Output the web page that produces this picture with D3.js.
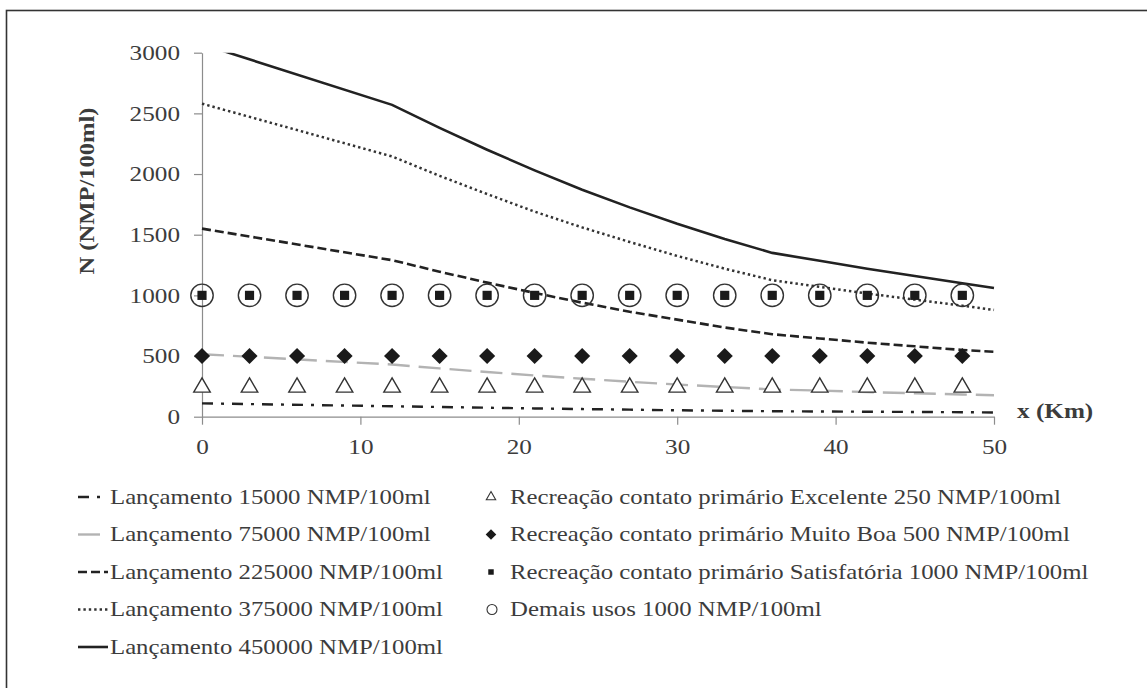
<!DOCTYPE html>
<html>
<head>
<meta charset="utf-8">
<script src="https://cdn.jsdelivr.net/npm/d3@7"></script>
<style>
    body { margin: 0; background: #fff; }
    #chartDiv { width: 1147px; height: 688px; }
    text { font-family: "Liberation Serif", "Times New Roman", serif; fill: #3c3c3c; }
    .axis path, .axis line { stroke: #8c8c8c; stroke-width: 1.2; }
</style>
</head>
<body>
<div id="chartDiv"></div>
<script>

// distance along the river (km) where the launch curves are read
let distKm = [0, 12, 15, 18, 21, 24, 27, 30, 33, 36, 39, 42, 45, 48, 50];

// coliform concentration N (NMP/100ml) for each launch
let launch15000  = [110, 86, 80, 74, 68, 63, 58, 53, 49, 45, 43, 41, 39, 37, 35];
let launch75000  = [515, 430, 398, 368, 340, 313, 288, 265, 245, 225, 215, 203, 193, 183, 177];
let launch225000 = [1550, 1290, 1195, 1105, 1020, 940, 865, 800, 735, 680, 645, 610, 580, 550, 535];
let launch375000 = [2580, 2145, 1985, 1835, 1690, 1560, 1440, 1325, 1220, 1125, 1070, 1015, 965, 915, 880];
let launch450000 = [3070, 2570, 2380, 2200, 2030, 1870, 1725, 1590, 1465, 1350, 1285, 1220, 1160, 1100, 1060];

// distances of the limit markers
let markerKm = [0, 3, 6, 9, 12, 15, 18, 21, 24, 27, 30, 33, 36, 39, 42, 45, 48];

// limit values (NMP/100ml)
let excelente250     = [250, 250, 250, 250, 250, 250, 250, 250, 250, 250, 250, 250, 250, 250, 250, 250, 250];
let muitoBoa500      = [500, 500, 500, 500, 500, 500, 500, 500, 500, 500, 500, 500, 500, 500, 500, 500, 500];
let satisfatoria1000 = [1000, 1000, 1000, 1000, 1000, 1000, 1000, 1000, 1000, 1000, 1000, 1000, 1000, 1000, 1000, 1000, 1000];
let demaisUsos1000   = [1000, 1000, 1000, 1000, 1000, 1000, 1000, 1000, 1000, 1000, 1000, 1000, 1000, 1000, 1000, 1000, 1000];

// tick labels
let xTicks = [0, 10, 20, 30, 40, 50];
let yTicks = [0, 500, 1000, 1500, 2000, 2500, 3000];

// legend labels
let lineLabels = [
    "Lançamento 15000 NMP/100ml",
    "Lançamento 75000 NMP/100ml",
    "Lançamento 225000 NMP/100ml",
    "Lançamento 375000 NMP/100ml",
    "Lançamento 450000 NMP/100ml"
];
let markerLabels = [
    "Recreação contato primário Excelente 250 NMP/100ml",
    "Recreação contato primário Muito Boa 500 NMP/100ml",
    "Recreação contato primário Satisfatória 1000 NMP/100ml",
    "Demais usos 1000 NMP/100ml"
];


class DecayChart {
    constructor(parentElement) {
        this.parentElement = parentElement;
        this.lines = [launch15000, launch75000, launch225000, launch375000, launch450000];
        this.initVis();
    }

    initVis() {
        let vis = this;

        vis.margin = {top: 52.7, left: 202};
        vis.width = 792;
        vis.height = 364;

        vis.root = d3.select("#" + vis.parentElement).append("svg")
            .attr("width", 1147)
            .attr("height", 688);

        // frame round the figure, it runs off the right and bottom edges
        vis.root.append("rect")
            .attr("x", 6.5)
            .attr("y", 10.5)
            .attr("width", 1300)
            .attr("height", 900)
            .attr("fill", "none")
            .attr("stroke", "#333")
            .attr("stroke-width", 1.6);

        vis.svg = vis.root.append("g")
            .attr("transform", "translate(" + vis.margin.left + "," + vis.margin.top + ")");

        vis.x = d3.scaleLinear().domain([0, 50]).range([0, vis.width]);
        vis.y = d3.scaleLinear().domain([0, 3000]).range([vis.height, 0]);

        vis.xAxis = d3.axisBottom(vis.x).tickValues(xTicks).tickFormat(d3.format("d")).tickSize(8).tickSizeOuter(0);
        vis.yAxis = d3.axisLeft(vis.y).tickValues(yTicks).tickFormat(d3.format("d")).tickSize(8).tickSizeOuter(0);

        // clip so the top curve stops at 3000
        vis.svg.append("clipPath").attr("id", "plotClip")
            .append("rect")
            .attr("x", -2).attr("y", 0)
            .attr("width", vis.width + 4).attr("height", vis.height + 10);

        // line styles, one per launch
        vis.lineStyles = [
            {color: "#222", width: 2.4, dash: "11,8,3,8"},
            {color: "#b3b3b3", width: 2.4, dash: "22,9"},
            {color: "#222", width: 2.6, dash: "9,4"},
            {color: "#333", width: 2.5, dash: "2.4,3"},
            {color: "#222", width: 2.6, dash: null}
        ];

        vis.updateVis();
    }

    updateVis() {
        let vis = this;

        // axes
        vis.svg.append("g")
            .attr("class", "x-axis axis")
            .attr("transform", "translate(0," + vis.height + ")")
            .call(vis.xAxis);
        vis.svg.append("g")
            .attr("class", "y-axis axis")
            .call(vis.yAxis);

        vis.svg.selectAll(".axis text")
            .attr("font-size", "21px")
            .attr("fill", "#3c3c3c");
        vis.svg.select(".x-axis").selectAll("text")
            .attr("y", 30)
            .attr("dy", "0.35em")
            .attr("transform", "scale(1.2,1)");
        vis.svg.select(".y-axis").selectAll("text")
            .attr("x", 0)
            .attr("transform", "translate(-22,0) scale(1.2,1)");

        // launch curves
        let line = d3.line()
            .x((d, i) => vis.x(distKm[i]))
            .y(d => vis.y(d));

        vis.svg.append("g")
            .attr("clip-path", "url(#plotClip)")
            .selectAll(".launch")
            .data(vis.lines)
            .enter()
            .append("path")
            .attr("class", "launch")
            .attr("d", d => line(d))
            .attr("fill", "none")
            .attr("stroke", (d, i) => vis.lineStyles[i].color)
            .attr("stroke-width", (d, i) => vis.lineStyles[i].width)
            .attr("stroke-dasharray", (d, i) => vis.lineStyles[i].dash);

        // limit markers
        let tri = d3.symbol().type(d3.symbolTriangle).size(118);
        let sq = d3.symbol().type(d3.symbolSquare);

        vis.svg.selectAll(".tri")
            .data(excelente250)
            .enter()
            .append("path")
            .attr("class", "tri")
            .attr("d", tri)
            .attr("transform", (d, i) => "translate(" + vis.x(markerKm[i]) + "," + (vis.y(d) + 1) + ")")
            .attr("fill", "#fff")
            .attr("stroke", "#333")
            .attr("stroke-width", 1.4);

        vis.svg.selectAll(".diamond")
            .data(muitoBoa500)
            .enter()
            .append("path")
            .attr("class", "diamond")
            .attr("d", sq.size(130)())
            .attr("transform", (d, i) => "translate(" + vis.x(markerKm[i]) + "," + vis.y(d) + ") rotate(45)")
            .attr("fill", "#1a1a1a");

        vis.svg.selectAll(".square")
            .data(satisfatoria1000)
            .enter()
            .append("path")
            .attr("class", "square")
            .attr("d", sq.size(84)())
            .attr("transform", (d, i) => "translate(" + vis.x(markerKm[i]) + "," + vis.y(d) + ")")
            .attr("fill", "#1a1a1a");

        vis.svg.selectAll(".ring")
            .data(demaisUsos1000)
            .enter()
            .append("circle")
            .attr("class", "ring")
            .attr("cx", (d, i) => vis.x(markerKm[i]))
            .attr("cy", d => vis.y(d))
            .attr("r", 11.2)
            .attr("fill", "none")
            .attr("stroke", "#333")
            .attr("stroke-width", 1.4);

        // axis titles
        vis.root.append("text")
            .attr("transform", "translate(87,191) rotate(-90) scale(1.17,1)")
            .attr("text-anchor", "middle")
            .attr("dominant-baseline", "central")
            .attr("font-size", "21px")
            .attr("font-weight", "bold")
            .attr("fill", "#333")
            .text("N (NMP/100ml)");

        vis.root.append("text")
            .attr("transform", "translate(1017,411) scale(1.2,1)")
            .attr("dominant-baseline", "central")
            .attr("font-size", "21px")
            .attr("font-weight", "bold")
            .attr("fill", "#333")
            .text("x (Km)");

        // legend, left column (lines)
        let rowY = i => 497 + i * 37.5;
        let legLeft = vis.root.append("g");

        lineLabels.forEach(function(label, i) {
            let st = vis.lineStyles[i];
            legLeft.append("line")
                .attr("x1", 78).attr("x2", 108)
                .attr("y1", rowY(i)).attr("y2", rowY(i))
                .attr("stroke", st.color)
                .attr("stroke-width", st.width)
                .attr("stroke-dasharray", st.dash);
            legLeft.append("text")
                .attr("transform", "translate(110," + rowY(i) + ") scale(1.18,1)")
                .attr("dominant-baseline", "central")
                .attr("font-size", "21px")
                .text(label);
        });

        // legend, right column (markers)
        let legRight = vis.root.append("g");
        let mx = 491;
        legRight.append("path")
            .attr("d", d3.symbol().type(d3.symbolTriangle).size(38)())
            .attr("transform", "translate(" + mx + "," + rowY(0) + ")")
            .attr("fill", "#fff").attr("stroke", "#333").attr("stroke-width", 1.1);
        legRight.append("path")
            .attr("d", d3.symbol().type(d3.symbolSquare).size(56)())
            .attr("transform", "translate(" + mx + "," + rowY(1) + ") rotate(45)")
            .attr("fill", "#1a1a1a");
        legRight.append("path")
            .attr("d", d3.symbol().type(d3.symbolSquare).size(30)())
            .attr("transform", "translate(" + mx + "," + rowY(2) + ")")
            .attr("fill", "#1a1a1a");
        legRight.append("circle")
            .attr("cx", mx + 1).attr("cy", rowY(3)).attr("r", 5)
            .attr("fill", "none").attr("stroke", "#333").attr("stroke-width", 1.1);

        markerLabels.forEach(function(label, i) {
            legRight.append("text")
                .attr("transform", "translate(510," + rowY(i) + ") scale(1.18,1)")
                .attr("dominant-baseline", "central")
                .attr("font-size", "21px")
                .text(label);
        });
    }
}

let chart = new DecayChart("chartDiv");
</script>
</body>
</html>
